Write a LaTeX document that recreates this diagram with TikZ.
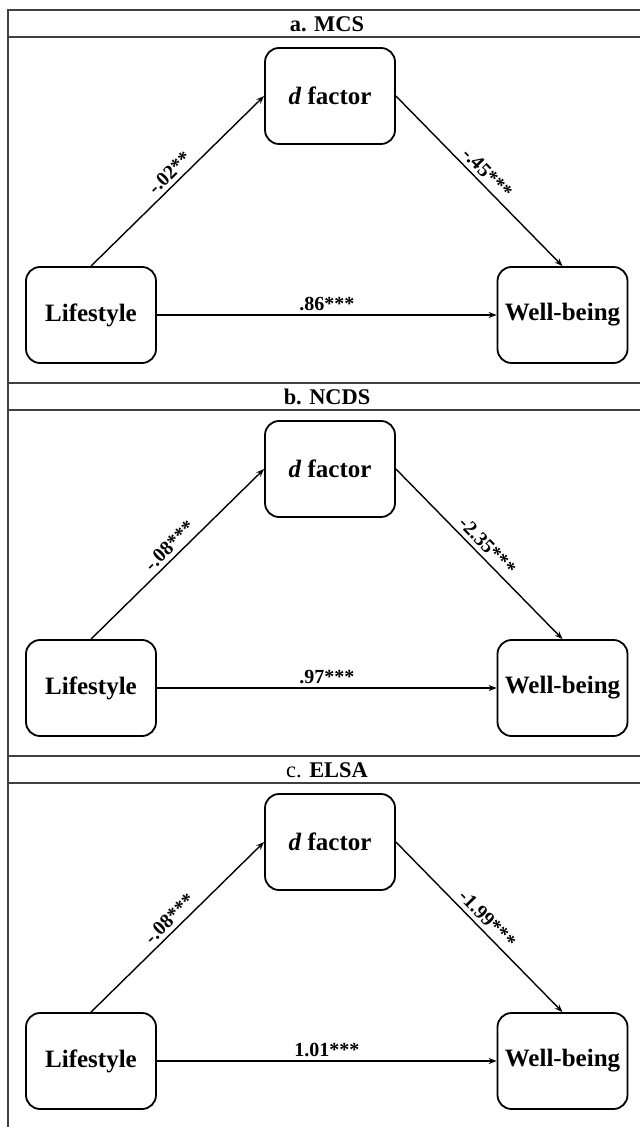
\documentclass[tikz,border=0pt]{standalone}
\usepackage{fontspec}
\setmainfont{Liberation Serif}
\usetikzlibrary{arrows.meta}
\tikzset{
	varbox/.style={draw, rounded corners=7pt, line width=0.9pt, minimum width=65pt, minimum height=48pt, inner sep=0pt, font=\fontsize{12.5}{15}\selectfont\bfseries},
	coef/.style={font=\fontsize{10}{12}\selectfont\bfseries, inner sep=2pt},
	patharrow/.style={line width=0.7pt, -{Stealth[length=4pt,width=3pt]}},
	frameline/.style={line width=0.8pt, black!75}
}
\begin{document}
\begin{tikzpicture}[x=0.5pt, y=-0.5pt]
			\useasboundingbox (0,0) rectangle (640,1127);
			\clip (0,0) rectangle (640,1127);
			\draw[frameline] (8,1140) -- (8,10) -- (650,10);
			
			\foreach \t/\panel/\ad/\db/\ab [count=\i] in {10/{a. MCS}/-.02**/-.45***/.86***, 383/{b. NCDS}/-.08***/-2.35***/.97***, 756/{\textmd{c.} ELSA}/-.08***/-1.99***/1.01***}{
				\draw[frameline] (8,\t+27) -- (650,\t+27);
				\node[font=\fontsize{11.2}{13}\selectfont\bfseries] (title\i) at (327,\t+14) {\panel};
				\node[varbox] (dfac\i) at (330,\t+86) {\textit{d} factor};
				\node[varbox] (life\i) at (91,\t+305) {Lifestyle};
				\node[varbox] (well\i) at (562.5,\t+305) {Well-being};
				\draw[patharrow] (life\i.north) -- node[coef, above, sloped] {\ad} (dfac\i.west);
				\draw[patharrow] (dfac\i.east) -- node[coef, above, sloped] {\db} (well\i.north);
				\draw[patharrow] (life\i.east) -- node[coef, above] {\ab} (well\i.west);
				\draw[frameline] (8,\t+373) -- (650,\t+373);
			}
		\end{tikzpicture}
\end{document}
